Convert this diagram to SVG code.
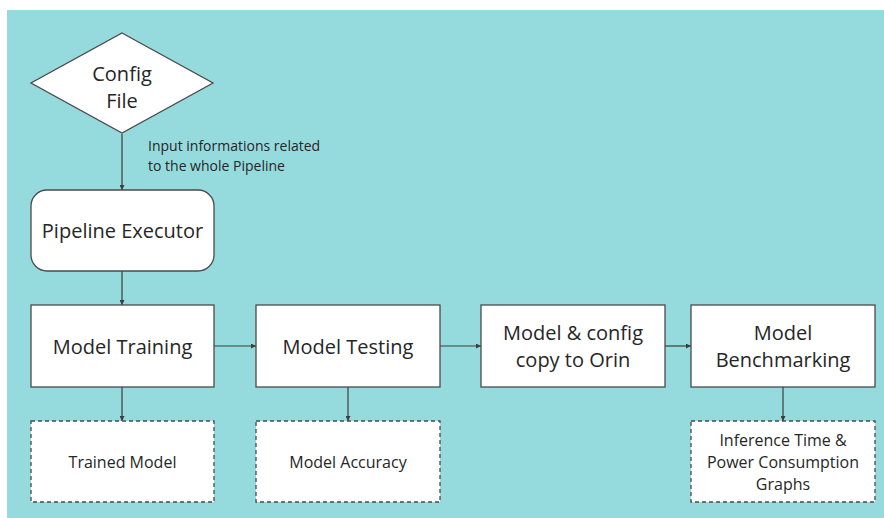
<svg xmlns="http://www.w3.org/2000/svg" width="884" height="518" viewBox="0 0 884 518">
<defs>
<marker id="ah" viewBox="0 0 10 10" refX="10" refY="5" markerWidth="5" markerHeight="5" orient="auto" markerUnits="userSpaceOnUse"><path d="M0,0 L10,5 L0,10 Z" fill="#3d3d3d"/></marker>
<style>
.box{fill:#fff;stroke:#4a4a4a;stroke-width:1.3}
.dash{fill:#fff;stroke:#4a4a4a;stroke-width:1.3;stroke-dasharray:4 3}
.t{font-family:"Open Sans","Noto Sans",sans-serif;fill:#262626;text-anchor:middle}
.big{font-size:20px}
.sm{font-size:16px}
.lbl{font-family:"Open Sans","Noto Sans",sans-serif;fill:#262626;font-size:14px}
.c{stroke:#3d3d3d;stroke-width:1.2;fill:none;marker-end:url(#ah)}
</style>
</defs>
<rect x="0" y="0" width="884" height="518" fill="#fff"/>
<rect x="7" y="10" width="877" height="508" fill="#95dbde"/>
<g id="connectors">
<line class="c" x1="122" y1="134" x2="122" y2="190"/>
<line class="c" x1="122" y1="271" x2="122" y2="305"/>
<line class="c" x1="214" y1="346" x2="256" y2="346"/>
<line class="c" x1="440" y1="346" x2="481" y2="346"/>
<line class="c" x1="665" y1="346" x2="691" y2="346"/>
<line class="c" x1="122" y1="387" x2="122" y2="421"/>
<line class="c" x1="348" y1="387" x2="348" y2="421"/>
<line class="c" x1="783" y1="387" x2="783" y2="421"/>
<text class="lbl" x="148" y="151">Input informations related</text>
<text class="lbl" x="148" y="171">to the whole Pipeline</text>
</g>
<g id="config">
<polygon class="box" points="122,33 213,83 122,133 31,83"/>
<text class="t big" x="122" y="81">Config</text>
<text class="t big" x="122" y="108">File</text>
</g>
<g id="executor">
<rect class="box" x="31" y="190" width="183" height="81" rx="16"/>
<text class="t big" x="122.5" y="238">Pipeline Executor</text>
</g>
<g id="training">
<rect class="box" x="31" y="305" width="183" height="82"/>
<text class="t big" x="122.5" y="354">Model Training</text>
</g>
<g id="testing">
<rect class="box" x="256" y="305" width="184" height="82"/>
<text class="t big" x="348" y="354">Model Testing</text>
</g>
<g id="copy">
<rect class="box" x="481" y="305" width="184" height="82"/>
<text class="t big" x="573" y="340">Model &amp; config</text>
<text class="t big" x="573" y="367">copy to Orin</text>
</g>
<g id="bench">
<rect class="box" x="691" y="305" width="184" height="82"/>
<text class="t big" x="783" y="340">Model</text>
<text class="t big" x="783" y="367">Benchmarking</text>
</g>
<g id="trained">
<rect class="dash" x="31" y="421" width="183" height="81"/>
<text class="t sm" x="122.5" y="468">Trained Model</text>
</g>
<g id="accuracy">
<rect class="dash" x="256" y="421" width="184" height="81"/>
<text class="t sm" x="348" y="468">Model Accuracy</text>
</g>
<g id="graphs">
<rect class="dash" x="691" y="421" width="184" height="81"/>
<text class="t sm" x="783" y="446">Inference Time &amp;</text>
<text class="t sm" x="783" y="468">Power Consumption</text>
<text class="t sm" x="783" y="490">Graphs</text>
</g>
</svg>
